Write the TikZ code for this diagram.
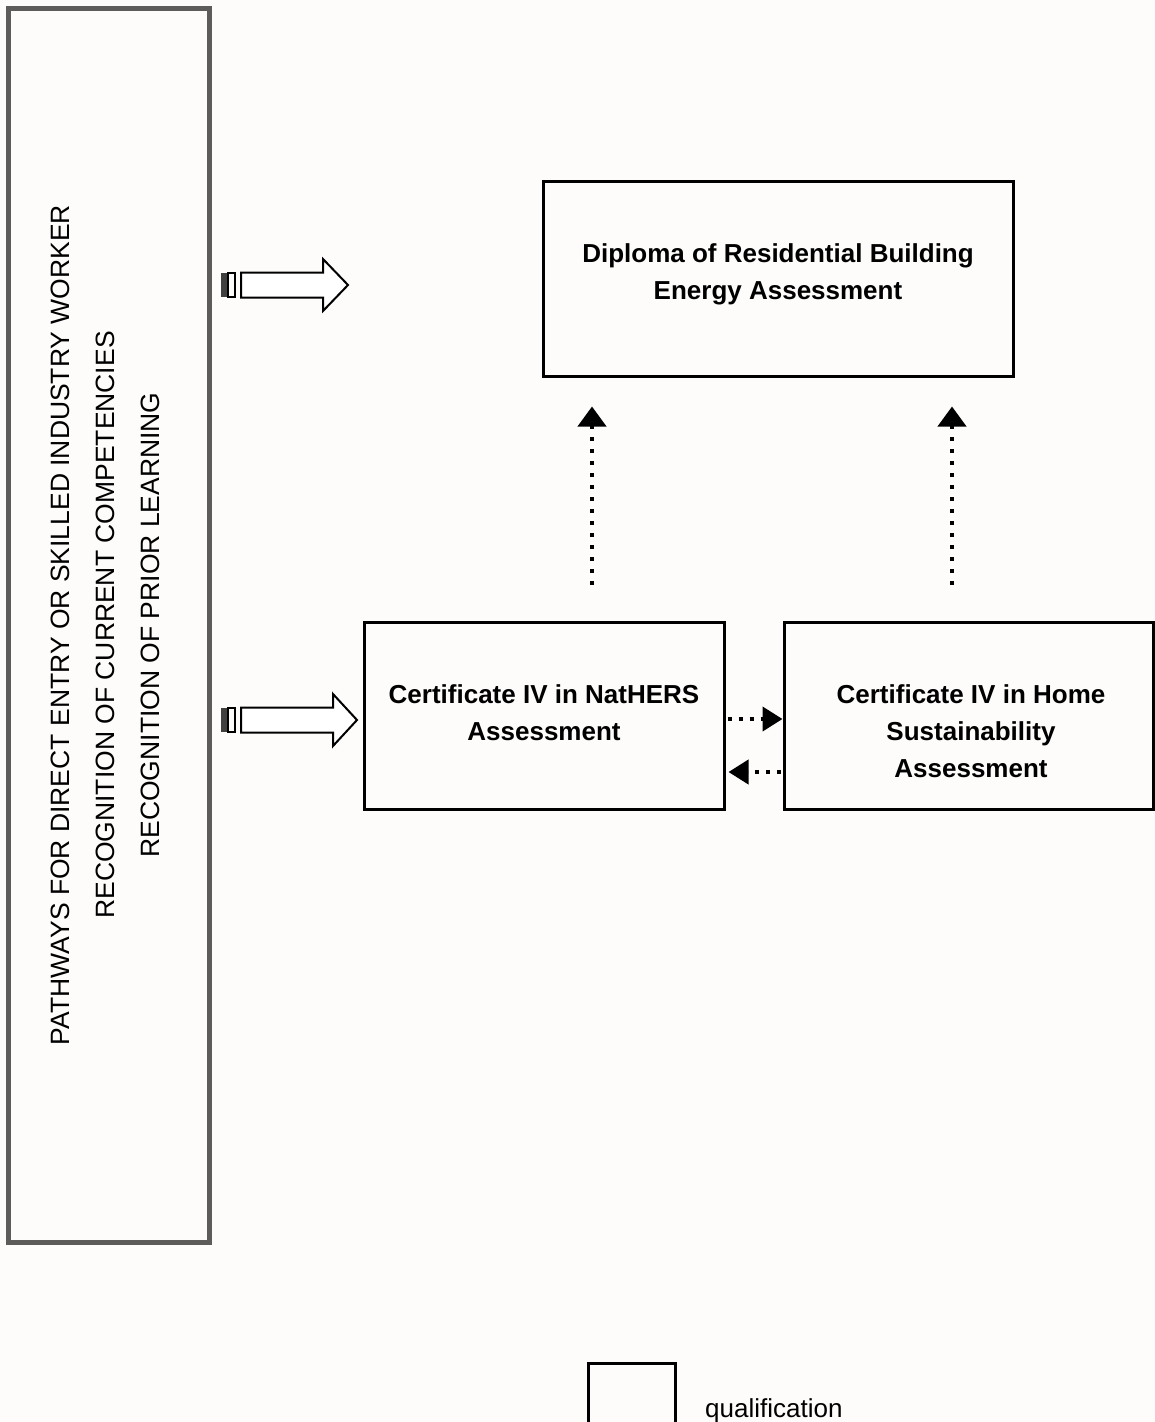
\documentclass[tikz,border=0pt]{standalone}
\usepackage{fontspec}
\setmainfont{Liberation Sans}
\usetikzlibrary{arrows.meta,calc}
\definecolor{bg}{HTML}{FEFCFA}
\definecolor{frame}{HTML}{5E5C5A}
\begin{document}
\begin{tikzpicture}[x=1pt,y=-1pt,
  qbox/.style={draw=black,line width=3pt,fill=bg,inner sep=0pt,align=center,
    font=\fontsize{26}{37}\selectfont\bfseries},
  qtext/.style={align=center,inner sep=0pt,font=\fontsize{26}{37}\selectfont\bfseries},
  dotarrow/.style={line width=4pt,dash pattern=on 4pt off 8pt,
    -{Triangle[length=20pt,width=28pt]}},
  hdotarrow/.style={line width=4pt,dash pattern=on 4pt off 7pt,
    -{Triangle[length=20pt,width=24pt]}},
  hollow/.style={draw=black,line width=2pt,fill=white,line join=miter}]
\useasboundingbox (0,0) rectangle (1155,1422);
\fill[bg] (0,0) rectangle (1155,1422);
% left pathways box
\node[draw=frame,line width=5pt,minimum width=201pt,minimum height=1234pt,inner sep=0pt] (path) at (108.5,625) {};
\node[rotate=90,align=center,font=\fontsize{26.5}{45}\selectfont] (pathtxt) at (105,625)
  {PATHWAYS FOR DIRECT ENTRY OR SKILLED INDUSTRY WORKER\\RECOGNITION OF CURRENT COMPETENCIES\\RECOGNITION OF PRIOR LEARNING};
% qualification boxes
\node[qbox,minimum width=470pt,minimum height=195pt] (dip) at (778,278.5) {};
\node[qtext] (diptxt) at (778,274) {Diploma of Residential Building\\Energy Assessment};
\node[qbox,minimum width=360pt,minimum height=187pt] (nat) at (544,715.5) {};
\node[qtext] (nattxt) at (544,713) {Certificate IV in NatHERS\\Assessment};
\node[qbox,minimum width=369pt,minimum height=187pt] (home) at (968.5,715.5) {};
\node[qtext] (hometxt) at (971,731) {Certificate IV in Home\\Sustainability\\Assessment};
% hollow arrows
\foreach \yc/\tip/\hb in {285/348/323, 720/357/333}{
  \fill[black!75] (221,\yc-12) rectangle (228,\yc+12);
  \draw[black,line width=1.5pt] (228,\yc-12) rectangle (235,\yc+12);
  \draw[hollow] (241,\yc-12.5) -- (\hb,\yc-12.5) -- (\hb,\yc-26) -- (\tip,\yc) -- (\hb,\yc+26) -- (\hb,\yc+12.5) -- (241,\yc+12.5) -- cycle;
}
% dotted connectors
\coordinate (v1) at (592,0);
\coordinate (v2) at (952,0);
\coordinate (h1) at (0,719);
\coordinate (h2) at (0,772);
\draw[dotarrow,shorten <=36pt,shorten >=29pt] (v1 |- nat.north) -- (v1 |- dip.south);
\draw[dotarrow,shorten <=36pt,shorten >=29pt] (v2 |- home.north) -- (v2 |- dip.south);
\draw[hdotarrow,shorten <=2pt] (nat.east |- h1) -- (home.west |- h1);
\draw[hdotarrow,shorten <=2pt,shorten >=3pt] (home.west |- h2) -- (nat.east |- h2);
% legend
\draw[line width=3pt] (588,1425) -- (588,1363.5) -- (675,1363.5) -- (675,1425);
\node[anchor=base west,font=\fontsize{26}{30}\selectfont,inner sep=0pt] (legtxt) at (705,1417) {qualification};
\end{tikzpicture}
\end{document}
